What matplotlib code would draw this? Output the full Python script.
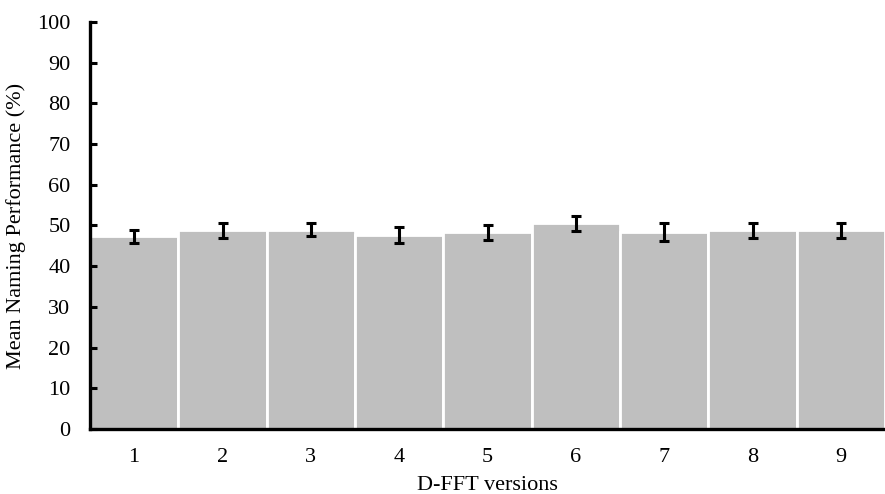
import matplotlib
matplotlib.use("Agg")
import matplotlib.pyplot as plt

versions = ["1", "2", "3", "4", "5", "6", "7", "8", "9"]
means = [47.3, 48.8, 49.0, 47.7, 48.3, 50.5, 48.4, 48.8, 48.8]
errors = [1.7, 1.8, 1.7, 1.9, 1.8, 1.8, 2.1, 1.8, 1.8]

plt.rcParams["font.family"] = "Liberation Serif"

fig = plt.figure(figsize=(8.85, 4.94), dpi=100)
ax = fig.add_axes([0.1017, 0.1316, 0.8983, 0.8239])

x = range(1, len(versions) + 1)
ax.bar(x, means, width=1.0, color="#bfbfbf", edgecolor="white", linewidth=2)
ax.errorbar(x, means, yerr=errors, fmt="none", ecolor="black",
            elinewidth=2.2, capsize=3.5, capthick=2.2)

ax.set_xlim(0.5, len(versions) + 0.5)
ax.set_ylim(0, 100)
ax.set_yticks(range(0, 101, 10))
ax.set_xticks(list(x))
ax.set_xticklabels(versions)

for side in ["top", "right"]:
    ax.spines[side].set_visible(False)
ax.spines["left"].set_linewidth(2.4)
ax.spines["bottom"].set_linewidth(2.4)
ax.tick_params(axis="y", direction="in", length=5, width=2.2, labelsize=16, pad=14)
ax.tick_params(axis="x", length=0, labelsize=16, pad=14)

ax.set_ylabel("Mean Naming Performance (%)", fontsize=16, labelpad=8)
ax.set_xlabel("D-FFT versions", fontsize=16, labelpad=6)

fig.savefig("out.png", dpi=100)
